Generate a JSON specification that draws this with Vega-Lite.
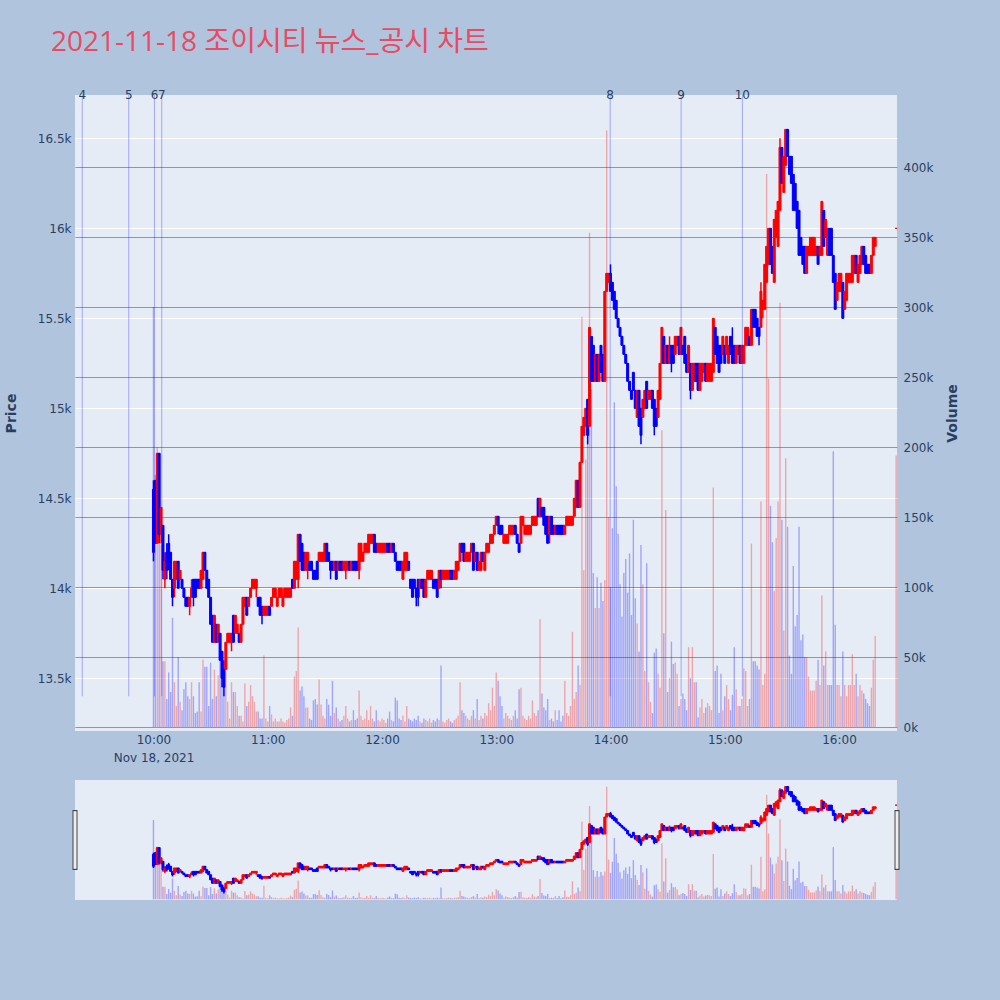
{
"$schema": "https://vega.github.io/schema/vega-lite/v6.json",
"background": "#b0c4de",
"padding": {"left": 4, "top": 29, "right": 40, "bottom": 100},
"spacing": 17,
"config": {
  "view": {"fill": "#e5ecf6", "stroke": null},
  "font": "DejaVu Sans",
  "axis": {"labelFont": "DejaVu Sans", "labelFontSize": 12, "labelColor": "#2a3f5f", "titleFont": "DejaVu Sans", "titleColor": "#2a3f5f", "titleFontSize": 14, "titleFontWeight": "bold", "ticks": false, "domain": false}
},
"datasets": {
"news": [{"n":"4","t":"2021-11-18T09:22:36"},{"n":"5","t":"2021-11-18T09:47:02"},{"n":"6","t":"2021-11-18T10:00:31"},{"n":"7","t":"2021-11-18T10:04:21"},{"n":"8","t":"2021-11-18T13:59:50"},{"n":"9","t":"2021-11-18T14:37:05"},{"n":"10","t":"2021-11-18T15:09:15"}],
"ends": [{"t":"2021-11-18T09:18:48"},{"t":"2021-11-18T16:30:27"}],
"px": [
{"t":"2021-11-18T10:00","o":14550,"h":14600,"l":14150,"c":14200,"v":300000},
{"t":"2021-11-18T10:01","o":14600,"h":14600,"l":14250,"c":14250,"v":180000},
{"t":"2021-11-18T10:02","o":14250,"h":14750,"l":14250,"c":14750,"v":200000},
{"t":"2021-11-18T10:03","o":14750,"h":14750,"l":14250,"c":14300,"v":150000},
{"t":"2021-11-18T10:04","o":14300,"h":14450,"l":14250,"c":14450,"v":130000},
{"t":"2021-11-18T10:05","o":14350,"h":14350,"l":14050,"c":14100,"v":47000},
{"t":"2021-11-18T10:06","o":14050,"h":14200,"l":14000,"c":14150,"v":47000},
{"t":"2021-11-18T10:07","o":14200,"h":14250,"l":14050,"c":14100,"v":20000},
{"t":"2021-11-18T10:08","o":14250,"h":14300,"l":14100,"c":14150,"v":39000},
{"t":"2021-11-18T10:09","o":14200,"h":14200,"l":14050,"c":14050,"v":25000},
{"t":"2021-11-18T10:10","o":14050,"h":14050,"l":13900,"c":13950,"v":78000},
{"t":"2021-11-18T10:11","o":14000,"h":14150,"l":13950,"c":14150,"v":32000},
{"t":"2021-11-18T10:12","o":14050,"h":14150,"l":14050,"c":14150,"v":15000},
{"t":"2021-11-18T10:13","o":14150,"h":14150,"l":14000,"c":14000,"v":50000},
{"t":"2021-11-18T10:14","o":14050,"h":14100,"l":14050,"c":14100,"v":18000},
{"t":"2021-11-18T10:15","o":14050,"h":14050,"l":14000,"c":14000,"v":12000},
{"t":"2021-11-18T10:16","o":14000,"h":14000,"l":13950,"c":13950,"v":27000},
{"t":"2021-11-18T10:17","o":13950,"h":13950,"l":13900,"c":13900,"v":32000},
{"t":"2021-11-18T10:18","o":13950,"h":13950,"l":13900,"c":13900,"v":22000},
{"t":"2021-11-18T10:19","o":13900,"h":13950,"l":13850,"c":13950,"v":20000},
{"t":"2021-11-18T10:20","o":13950,"h":14050,"l":13950,"c":14000,"v":32000},
{"t":"2021-11-18T10:21","o":14050,"h":14050,"l":13900,"c":13950,"v":22000},
{"t":"2021-11-18T10:22","o":14050,"h":14050,"l":13950,"c":13950,"v":10000},
{"t":"2021-11-18T10:23","o":14050,"h":14050,"l":14000,"c":14000,"v":11000},
{"t":"2021-11-18T10:24","o":14050,"h":14050,"l":14000,"c":14000,"v":32000},
{"t":"2021-11-18T10:25","o":14000,"h":14100,"l":14000,"c":14100,"v":11000},
{"t":"2021-11-18T10:26","o":14050,"h":14200,"l":14050,"c":14200,"v":48000},
{"t":"2021-11-18T10:27","o":14200,"h":14200,"l":14100,"c":14100,"v":43000},
{"t":"2021-11-18T10:28","o":14100,"h":14100,"l":14000,"c":14000,"v":43000},
{"t":"2021-11-18T10:29","o":14050,"h":14050,"l":13950,"c":13950,"v":15000},
{"t":"2021-11-18T10:30","o":13950,"h":13950,"l":13800,"c":13800,"v":46000},
{"t":"2021-11-18T10:31","o":13850,"h":13850,"l":13700,"c":13700,"v":20000},
{"t":"2021-11-18T10:32","o":13700,"h":13850,"l":13700,"c":13850,"v":41000},
{"t":"2021-11-18T10:33","o":13800,"h":13800,"l":13700,"c":13700,"v":22000},
{"t":"2021-11-18T10:34","o":13700,"h":13800,"l":13700,"c":13800,"v":37000},
{"t":"2021-11-18T10:35","o":13750,"h":13750,"l":13600,"c":13600,"v":51000},
{"t":"2021-11-18T10:36","o":13650,"h":13650,"l":13450,"c":13500,"v":51000},
{"t":"2021-11-18T10:37","o":13550,"h":13600,"l":13400,"c":13450,"v":34000},
{"t":"2021-11-18T10:38","o":13550,"h":13700,"l":13550,"c":13700,"v":46000},
{"t":"2021-11-18T10:39","o":13700,"h":13750,"l":13700,"c":13750,"v":18000},
{"t":"2021-11-18T10:40","o":13700,"h":13750,"l":13700,"c":13750,"v":6000},
{"t":"2021-11-18T10:41","o":13700,"h":13750,"l":13650,"c":13750,"v":32000},
{"t":"2021-11-18T10:42","o":13850,"h":13850,"l":13700,"c":13700,"v":25000},
{"t":"2021-11-18T10:43","o":13750,"h":13850,"l":13750,"c":13850,"v":25000},
{"t":"2021-11-18T10:44","o":13750,"h":13800,"l":13750,"c":13800,"v":15000},
{"t":"2021-11-18T10:45","o":13750,"h":13750,"l":13700,"c":13700,"v":8000},
{"t":"2021-11-18T10:46","o":13700,"h":13800,"l":13700,"c":13800,"v":8000},
{"t":"2021-11-18T10:47","o":13800,"h":13950,"l":13800,"c":13950,"v":4000},
{"t":"2021-11-18T10:48","o":13900,"h":13950,"l":13900,"c":13950,"v":31000},
{"t":"2021-11-18T10:49","o":13950,"h":13950,"l":13850,"c":13850,"v":15000},
{"t":"2021-11-18T10:50","o":13900,"h":13950,"l":13900,"c":13950,"v":18000},
{"t":"2021-11-18T10:51","o":13950,"h":14000,"l":13950,"c":14000,"v":30000},
{"t":"2021-11-18T10:52","o":14000,"h":14050,"l":14000,"c":14050,"v":22000},
{"t":"2021-11-18T10:53","o":14000,"h":14050,"l":14000,"c":14050,"v":18000},
{"t":"2021-11-18T10:54","o":14000,"h":14050,"l":13950,"c":14050,"v":11000},
{"t":"2021-11-18T10:55","o":13950,"h":13950,"l":13900,"c":13900,"v":11000},
{"t":"2021-11-18T10:56","o":13950,"h":13950,"l":13850,"c":13850,"v":6000},
{"t":"2021-11-18T10:57","o":13900,"h":13900,"l":13800,"c":13850,"v":6000},
{"t":"2021-11-18T10:58","o":13850,"h":13900,"l":13850,"c":13900,"v":51000},
{"t":"2021-11-18T10:59","o":13850,"h":13900,"l":13850,"c":13900,"v":6000},
{"t":"2021-11-18T11:00","o":13850,"h":13900,"l":13850,"c":13900,"v":4000},
{"t":"2021-11-18T11:01","o":13900,"h":13900,"l":13850,"c":13850,"v":15000},
{"t":"2021-11-18T11:02","o":13900,"h":13950,"l":13900,"c":13950,"v":9000},
{"t":"2021-11-18T11:03","o":13950,"h":14000,"l":13950,"c":14000,"v":4000},
{"t":"2021-11-18T11:04","o":13950,"h":14000,"l":13950,"c":14000,"v":6000},
{"t":"2021-11-18T11:05","o":13900,"h":13950,"l":13900,"c":13950,"v":4000},
{"t":"2021-11-18T11:06","o":13950,"h":14000,"l":13950,"c":14000,"v":4000},
{"t":"2021-11-18T11:07","o":13950,"h":14000,"l":13950,"c":14000,"v":6000},
{"t":"2021-11-18T11:08","o":13900,"h":14000,"l":13900,"c":13950,"v":4000},
{"t":"2021-11-18T11:09","o":13950,"h":14000,"l":13950,"c":14000,"v":3000},
{"t":"2021-11-18T11:10","o":13950,"h":14000,"l":13950,"c":14000,"v":5000},
{"t":"2021-11-18T11:11","o":13950,"h":14000,"l":13950,"c":14000,"v":6000},
{"t":"2021-11-18T11:12","o":13950,"h":14000,"l":13950,"c":14000,"v":14000},
{"t":"2021-11-18T11:13","o":14050,"h":14050,"l":14000,"c":14000,"v":8000},
{"t":"2021-11-18T11:14","o":14000,"h":14150,"l":14000,"c":14150,"v":36000},
{"t":"2021-11-18T11:15","o":14050,"h":14150,"l":14050,"c":14150,"v":40000},
{"t":"2021-11-18T11:16","o":14050,"h":14300,"l":14000,"c":14300,"v":71000},
{"t":"2021-11-18T11:17","o":14300,"h":14300,"l":14150,"c":14150,"v":26000},
{"t":"2021-11-18T11:18","o":14250,"h":14250,"l":14100,"c":14100,"v":29000},
{"t":"2021-11-18T11:19","o":14200,"h":14200,"l":14100,"c":14100,"v":22000},
{"t":"2021-11-18T11:20","o":14100,"h":14200,"l":14100,"c":14200,"v":14000},
{"t":"2021-11-18T11:21","o":14100,"h":14200,"l":14050,"c":14200,"v":14000},
{"t":"2021-11-18T11:22","o":14150,"h":14150,"l":14100,"c":14100,"v":6000},
{"t":"2021-11-18T11:23","o":14150,"h":14150,"l":14100,"c":14100,"v":5000},
{"t":"2021-11-18T11:24","o":14100,"h":14100,"l":14050,"c":14050,"v":19000},
{"t":"2021-11-18T11:25","o":14100,"h":14100,"l":14050,"c":14050,"v":20000},
{"t":"2021-11-18T11:26","o":14150,"h":14150,"l":14050,"c":14050,"v":16000},
{"t":"2021-11-18T11:27","o":14150,"h":14200,"l":14150,"c":14200,"v":34000},
{"t":"2021-11-18T11:28","o":14150,"h":14200,"l":14150,"c":14200,"v":16000},
{"t":"2021-11-18T11:29","o":14150,"h":14200,"l":14150,"c":14200,"v":8000},
{"t":"2021-11-18T11:30","o":14150,"h":14250,"l":14150,"c":14250,"v":6000},
{"t":"2021-11-18T11:31","o":14250,"h":14250,"l":14150,"c":14150,"v":20000},
{"t":"2021-11-18T11:32","o":14200,"h":14200,"l":14150,"c":14150,"v":16000},
{"t":"2021-11-18T11:33","o":14150,"h":14150,"l":14050,"c":14100,"v":8000},
{"t":"2021-11-18T11:34","o":14150,"h":14150,"l":14100,"c":14100,"v":33000},
{"t":"2021-11-18T11:35","o":14100,"h":14150,"l":14100,"c":14150,"v":10000},
{"t":"2021-11-18T11:36","o":14150,"h":14150,"l":14050,"c":14050,"v":14000},
{"t":"2021-11-18T11:37","o":14100,"h":14150,"l":14100,"c":14150,"v":6000},
{"t":"2021-11-18T11:38","o":14150,"h":14150,"l":14100,"c":14100,"v":4000},
{"t":"2021-11-18T11:39","o":14150,"h":14150,"l":14100,"c":14100,"v":5000},
{"t":"2021-11-18T11:40","o":14100,"h":14150,"l":14100,"c":14150,"v":8000},
{"t":"2021-11-18T11:41","o":14100,"h":14150,"l":14050,"c":14150,"v":15000},
{"t":"2021-11-18T11:42","o":14100,"h":14150,"l":14100,"c":14150,"v":6000},
{"t":"2021-11-18T11:43","o":14150,"h":14150,"l":14100,"c":14100,"v":4000},
{"t":"2021-11-18T11:44","o":14100,"h":14150,"l":14100,"c":14150,"v":5000},
{"t":"2021-11-18T11:45","o":14150,"h":14150,"l":14100,"c":14100,"v":12000},
{"t":"2021-11-18T11:46","o":14150,"h":14150,"l":14100,"c":14100,"v":5000},
{"t":"2021-11-18T11:47","o":14150,"h":14150,"l":14100,"c":14100,"v":6000},
{"t":"2021-11-18T11:48","o":14100,"h":14250,"l":14050,"c":14250,"v":26000},
{"t":"2021-11-18T11:49","o":14150,"h":14250,"l":14150,"c":14250,"v":8000},
{"t":"2021-11-18T11:50","o":14150,"h":14200,"l":14150,"c":14200,"v":5000},
{"t":"2021-11-18T11:51","o":14200,"h":14250,"l":14200,"c":14250,"v":6000},
{"t":"2021-11-18T11:52","o":14200,"h":14250,"l":14200,"c":14250,"v":12000},
{"t":"2021-11-18T11:53","o":14200,"h":14300,"l":14200,"c":14300,"v":5000},
{"t":"2021-11-18T11:54","o":14250,"h":14300,"l":14250,"c":14300,"v":15000},
{"t":"2021-11-18T11:55","o":14250,"h":14300,"l":14250,"c":14300,"v":6000},
{"t":"2021-11-18T11:56","o":14300,"h":14300,"l":14200,"c":14200,"v":4000},
{"t":"2021-11-18T11:57","o":14250,"h":14250,"l":14200,"c":14200,"v":12000},
{"t":"2021-11-18T11:58","o":14200,"h":14250,"l":14200,"c":14250,"v":5000},
{"t":"2021-11-18T11:59","o":14200,"h":14250,"l":14200,"c":14250,"v":4000},
{"t":"2021-11-18T12:00","o":14200,"h":14250,"l":14200,"c":14250,"v":6000},
{"t":"2021-11-18T12:01","o":14200,"h":14250,"l":14200,"c":14250,"v":5000},
{"t":"2021-11-18T12:02","o":14200,"h":14250,"l":14200,"c":14250,"v":3000},
{"t":"2021-11-18T12:03","o":14250,"h":14250,"l":14200,"c":14200,"v":6000},
{"t":"2021-11-18T12:04","o":14250,"h":14250,"l":14200,"c":14200,"v":11000},
{"t":"2021-11-18T12:05","o":14200,"h":14250,"l":14200,"c":14250,"v":5000},
{"t":"2021-11-18T12:06","o":14250,"h":14250,"l":14200,"c":14200,"v":4000},
{"t":"2021-11-18T12:07","o":14200,"h":14200,"l":14150,"c":14150,"v":21000},
{"t":"2021-11-18T12:08","o":14150,"h":14150,"l":14100,"c":14100,"v":19000},
{"t":"2021-11-18T12:09","o":14150,"h":14150,"l":14100,"c":14100,"v":6000},
{"t":"2021-11-18T12:10","o":14150,"h":14150,"l":14100,"c":14100,"v":5000},
{"t":"2021-11-18T12:11","o":14050,"h":14150,"l":14050,"c":14150,"v":8000},
{"t":"2021-11-18T12:12","o":14100,"h":14200,"l":14100,"c":14200,"v":4000},
{"t":"2021-11-18T12:13","o":14100,"h":14200,"l":14100,"c":14200,"v":15000},
{"t":"2021-11-18T12:14","o":14150,"h":14150,"l":14100,"c":14100,"v":6000},
{"t":"2021-11-18T12:15","o":14050,"h":14050,"l":14000,"c":14000,"v":5000},
{"t":"2021-11-18T12:16","o":14050,"h":14050,"l":13950,"c":13950,"v":4000},
{"t":"2021-11-18T12:17","o":14050,"h":14050,"l":14000,"c":14000,"v":6000},
{"t":"2021-11-18T12:18","o":14000,"h":14000,"l":13900,"c":13950,"v":5000},
{"t":"2021-11-18T12:19","o":14050,"h":14050,"l":13900,"c":13950,"v":8000},
{"t":"2021-11-18T12:20","o":14000,"h":14050,"l":14000,"c":14050,"v":4000},
{"t":"2021-11-18T12:21","o":14050,"h":14050,"l":14000,"c":14000,"v":3000},
{"t":"2021-11-18T12:22","o":14050,"h":14050,"l":13950,"c":13950,"v":6000},
{"t":"2021-11-18T12:23","o":13950,"h":14050,"l":13950,"c":14050,"v":5000},
{"t":"2021-11-18T12:24","o":14050,"h":14100,"l":14050,"c":14100,"v":4000},
{"t":"2021-11-18T12:25","o":14050,"h":14100,"l":14050,"c":14100,"v":6000},
{"t":"2021-11-18T12:26","o":14050,"h":14100,"l":14050,"c":14100,"v":3000},
{"t":"2021-11-18T12:27","o":14050,"h":14050,"l":14000,"c":14000,"v":5000},
{"t":"2021-11-18T12:28","o":14050,"h":14050,"l":14000,"c":14000,"v":4000},
{"t":"2021-11-18T12:29","o":14050,"h":14050,"l":13950,"c":13950,"v":6000},
{"t":"2021-11-18T12:30","o":14000,"h":14100,"l":14000,"c":14100,"v":5000},
{"t":"2021-11-18T12:31","o":14100,"h":14100,"l":14000,"c":14050,"v":44000},
{"t":"2021-11-18T12:32","o":14050,"h":14100,"l":14050,"c":14100,"v":4000},
{"t":"2021-11-18T12:33","o":14050,"h":14100,"l":14050,"c":14100,"v":3000},
{"t":"2021-11-18T12:34","o":14050,"h":14100,"l":14050,"c":14100,"v":5000},
{"t":"2021-11-18T12:35","o":14050,"h":14100,"l":14050,"c":14100,"v":6000},
{"t":"2021-11-18T12:36","o":14100,"h":14100,"l":14050,"c":14050,"v":4000},
{"t":"2021-11-18T12:37","o":14100,"h":14100,"l":14050,"c":14050,"v":3000},
{"t":"2021-11-18T12:38","o":14050,"h":14100,"l":14050,"c":14100,"v":5000},
{"t":"2021-11-18T12:39","o":14050,"h":14150,"l":14050,"c":14150,"v":6000},
{"t":"2021-11-18T12:40","o":14100,"h":14150,"l":14100,"c":14150,"v":8000},
{"t":"2021-11-18T12:41","o":14150,"h":14250,"l":14150,"c":14250,"v":32000},
{"t":"2021-11-18T12:42","o":14250,"h":14250,"l":14200,"c":14200,"v":12000},
{"t":"2021-11-18T12:43","o":14250,"h":14250,"l":14150,"c":14150,"v":10000},
{"t":"2021-11-18T12:44","o":14150,"h":14200,"l":14150,"c":14200,"v":8000},
{"t":"2021-11-18T12:45","o":14150,"h":14200,"l":14150,"c":14200,"v":6000},
{"t":"2021-11-18T12:46","o":14150,"h":14200,"l":14150,"c":14200,"v":5000},
{"t":"2021-11-18T12:47","o":14200,"h":14250,"l":14200,"c":14250,"v":8000},
{"t":"2021-11-18T12:48","o":14250,"h":14250,"l":14100,"c":14100,"v":12000},
{"t":"2021-11-18T12:49","o":14150,"h":14200,"l":14150,"c":14200,"v":6000},
{"t":"2021-11-18T12:50","o":14200,"h":14200,"l":14100,"c":14100,"v":20000},
{"t":"2021-11-18T12:51","o":14100,"h":14150,"l":14100,"c":14150,"v":5000},
{"t":"2021-11-18T12:52","o":14100,"h":14200,"l":14100,"c":14200,"v":8000},
{"t":"2021-11-18T12:53","o":14200,"h":14200,"l":14150,"c":14150,"v":6000},
{"t":"2021-11-18T12:54","o":14100,"h":14200,"l":14100,"c":14200,"v":10000},
{"t":"2021-11-18T12:55","o":14200,"h":14250,"l":14200,"c":14250,"v":8000},
{"t":"2021-11-18T12:56","o":14200,"h":14250,"l":14200,"c":14250,"v":17000},
{"t":"2021-11-18T12:57","o":14250,"h":14300,"l":14250,"c":14300,"v":12000},
{"t":"2021-11-18T12:58","o":14250,"h":14300,"l":14250,"c":14300,"v":28000},
{"t":"2021-11-18T12:59","o":14300,"h":14350,"l":14300,"c":14350,"v":15000},
{"t":"2021-11-18T13:00","o":14350,"h":14400,"l":14350,"c":14400,"v":39000},
{"t":"2021-11-18T13:01","o":14400,"h":14400,"l":14300,"c":14350,"v":33000},
{"t":"2021-11-18T13:02","o":14350,"h":14350,"l":14300,"c":14300,"v":22000},
{"t":"2021-11-18T13:03","o":14350,"h":14350,"l":14300,"c":14300,"v":15000},
{"t":"2021-11-18T13:04","o":14250,"h":14300,"l":14250,"c":14300,"v":6000},
{"t":"2021-11-18T13:05","o":14250,"h":14300,"l":14250,"c":14300,"v":10000},
{"t":"2021-11-18T13:06","o":14250,"h":14300,"l":14250,"c":14300,"v":8000},
{"t":"2021-11-18T13:07","o":14300,"h":14350,"l":14300,"c":14350,"v":6000},
{"t":"2021-11-18T13:08","o":14300,"h":14350,"l":14300,"c":14350,"v":5000},
{"t":"2021-11-18T13:09","o":14300,"h":14350,"l":14300,"c":14350,"v":8000},
{"t":"2021-11-18T13:10","o":14350,"h":14350,"l":14300,"c":14300,"v":12000},
{"t":"2021-11-18T13:11","o":14300,"h":14300,"l":14250,"c":14250,"v":6000},
{"t":"2021-11-18T13:12","o":14250,"h":14250,"l":14200,"c":14200,"v":27000},
{"t":"2021-11-18T13:13","o":14250,"h":14400,"l":14250,"c":14400,"v":28000},
{"t":"2021-11-18T13:14","o":14350,"h":14400,"l":14350,"c":14400,"v":8000},
{"t":"2021-11-18T13:15","o":14300,"h":14350,"l":14300,"c":14350,"v":6000},
{"t":"2021-11-18T13:16","o":14300,"h":14350,"l":14300,"c":14350,"v":5000},
{"t":"2021-11-18T13:17","o":14300,"h":14350,"l":14300,"c":14350,"v":8000},
{"t":"2021-11-18T13:18","o":14300,"h":14350,"l":14300,"c":14350,"v":6000},
{"t":"2021-11-18T13:19","o":14350,"h":14400,"l":14350,"c":14400,"v":19000},
{"t":"2021-11-18T13:20","o":14350,"h":14400,"l":14350,"c":14400,"v":10000},
{"t":"2021-11-18T13:21","o":14350,"h":14400,"l":14350,"c":14400,"v":8000},
{"t":"2021-11-18T13:22","o":14500,"h":14500,"l":14400,"c":14400,"v":12000},
{"t":"2021-11-18T13:23","o":14400,"h":14500,"l":14400,"c":14500,"v":77000},
{"t":"2021-11-18T13:24","o":14450,"h":14450,"l":14400,"c":14400,"v":24000},
{"t":"2021-11-18T13:25","o":14450,"h":14450,"l":14350,"c":14350,"v":14000},
{"t":"2021-11-18T13:26","o":14400,"h":14400,"l":14300,"c":14300,"v":12000},
{"t":"2021-11-18T13:27","o":14400,"h":14400,"l":14250,"c":14250,"v":20000},
{"t":"2021-11-18T13:28","o":14300,"h":14400,"l":14250,"c":14400,"v":5000},
{"t":"2021-11-18T13:29","o":14400,"h":14400,"l":14300,"c":14300,"v":6000},
{"t":"2021-11-18T13:30","o":14350,"h":14350,"l":14300,"c":14300,"v":4000},
{"t":"2021-11-18T13:31","o":14300,"h":14350,"l":14300,"c":14350,"v":12000},
{"t":"2021-11-18T13:32","o":14350,"h":14350,"l":14300,"c":14300,"v":5000},
{"t":"2021-11-18T13:33","o":14350,"h":14350,"l":14300,"c":14300,"v":12000},
{"t":"2021-11-18T13:34","o":14350,"h":14350,"l":14300,"c":14300,"v":4000},
{"t":"2021-11-18T13:35","o":14350,"h":14350,"l":14300,"c":14300,"v":8000},
{"t":"2021-11-18T13:36","o":14300,"h":14350,"l":14300,"c":14350,"v":33000},
{"t":"2021-11-18T13:37","o":14350,"h":14400,"l":14350,"c":14400,"v":10000},
{"t":"2021-11-18T13:38","o":14350,"h":14400,"l":14350,"c":14400,"v":8000},
{"t":"2021-11-18T13:39","o":14350,"h":14400,"l":14350,"c":14400,"v":15000},
{"t":"2021-11-18T13:40","o":14350,"h":14400,"l":14350,"c":14400,"v":68000},
{"t":"2021-11-18T13:41","o":14400,"h":14500,"l":14400,"c":14500,"v":20000},
{"t":"2021-11-18T13:42","o":14450,"h":14600,"l":14450,"c":14600,"v":25000},
{"t":"2021-11-18T13:43","o":14600,"h":14600,"l":14450,"c":14450,"v":44000},
{"t":"2021-11-18T13:44","o":14450,"h":14700,"l":14450,"c":14700,"v":30000},
{"t":"2021-11-18T13:45","o":14700,"h":14900,"l":14700,"c":14900,"v":293000},
{"t":"2021-11-18T13:46","o":14850,"h":14950,"l":14850,"c":14950,"v":112000},
{"t":"2021-11-18T13:47","o":14900,"h":15000,"l":14900,"c":15000,"v":191000},
{"t":"2021-11-18T13:48","o":15050,"h":15050,"l":14800,"c":14850,"v":211000},
{"t":"2021-11-18T13:49","o":14900,"h":15450,"l":14900,"c":15450,"v":353000},
{"t":"2021-11-18T13:50","o":15400,"h":15400,"l":15150,"c":15150,"v":241000},
{"t":"2021-11-18T13:51","o":15350,"h":15350,"l":15150,"c":15150,"v":110000},
{"t":"2021-11-18T13:52","o":15150,"h":15300,"l":15150,"c":15300,"v":85000},
{"t":"2021-11-18T13:53","o":15300,"h":15300,"l":15150,"c":15150,"v":107000},
{"t":"2021-11-18T13:54","o":15150,"h":15300,"l":15150,"c":15300,"v":85000},
{"t":"2021-11-18T13:55","o":15350,"h":15350,"l":15200,"c":15200,"v":103000},
{"t":"2021-11-18T13:56","o":15300,"h":15300,"l":15150,"c":15150,"v":90000},
{"t":"2021-11-18T13:57","o":15150,"h":15650,"l":15150,"c":15650,"v":105000},
{"t":"2021-11-18T13:58","o":15650,"h":15750,"l":15650,"c":15750,"v":426000},
{"t":"2021-11-18T13:59","o":15700,"h":15750,"l":15700,"c":15750,"v":150000},
{"t":"2021-11-18T14:00","o":15750,"h":15800,"l":15650,"c":15650,"v":100000},
{"t":"2021-11-18T14:01","o":15700,"h":15700,"l":15600,"c":15600,"v":142000},
{"t":"2021-11-18T14:02","o":15650,"h":15650,"l":15550,"c":15550,"v":232000},
{"t":"2021-11-18T14:03","o":15600,"h":15600,"l":15500,"c":15500,"v":172000},
{"t":"2021-11-18T14:04","o":15500,"h":15500,"l":15450,"c":15450,"v":138000},
{"t":"2021-11-18T14:05","o":15450,"h":15450,"l":15400,"c":15400,"v":102000},
{"t":"2021-11-18T14:06","o":15400,"h":15400,"l":15350,"c":15350,"v":79000},
{"t":"2021-11-18T14:07","o":15350,"h":15350,"l":15300,"c":15300,"v":110000},
{"t":"2021-11-18T14:08","o":15300,"h":15300,"l":15250,"c":15250,"v":120000},
{"t":"2021-11-18T14:09","o":15250,"h":15250,"l":15150,"c":15150,"v":96000},
{"t":"2021-11-18T14:10","o":15150,"h":15150,"l":15100,"c":15100,"v":124000},
{"t":"2021-11-18T14:11","o":15100,"h":15100,"l":15050,"c":15050,"v":80000},
{"t":"2021-11-18T14:12","o":15200,"h":15200,"l":15100,"c":15100,"v":148000},
{"t":"2021-11-18T14:13","o":15100,"h":15100,"l":15000,"c":15000,"v":92000},
{"t":"2021-11-18T14:14","o":14950,"h":15100,"l":14950,"c":15100,"v":74000},
{"t":"2021-11-18T14:15","o":15100,"h":15100,"l":14900,"c":14900,"v":54000},
{"t":"2021-11-18T14:16","o":15000,"h":15000,"l":14800,"c":14850,"v":130000},
{"t":"2021-11-18T14:17","o":14950,"h":15050,"l":14950,"c":15050,"v":102000},
{"t":"2021-11-18T14:18","o":15000,"h":15100,"l":15000,"c":15100,"v":40000},
{"t":"2021-11-18T14:19","o":15150,"h":15150,"l":15000,"c":15000,"v":117000},
{"t":"2021-11-18T14:20","o":15050,"h":15100,"l":15050,"c":15100,"v":32000},
{"t":"2021-11-18T14:21","o":15050,"h":15100,"l":15050,"c":15100,"v":18000},
{"t":"2021-11-18T14:22","o":15100,"h":15100,"l":15000,"c":15000,"v":10000},
{"t":"2021-11-18T14:23","o":15050,"h":15050,"l":14850,"c":14900,"v":53000},
{"t":"2021-11-18T14:24","o":15000,"h":15000,"l":14900,"c":14900,"v":56000},
{"t":"2021-11-18T14:25","o":14950,"h":15100,"l":14950,"c":15100,"v":38000},
{"t":"2021-11-18T14:26","o":15050,"h":15250,"l":15050,"c":15250,"v":28000},
{"t":"2021-11-18T14:27","o":15250,"h":15450,"l":15250,"c":15450,"v":212000},
{"t":"2021-11-18T14:28","o":15400,"h":15400,"l":15250,"c":15250,"v":67000},
{"t":"2021-11-18T14:29","o":15250,"h":15350,"l":15250,"c":15350,"v":155000},
{"t":"2021-11-18T14:30","o":15350,"h":15350,"l":15250,"c":15250,"v":25000},
{"t":"2021-11-18T14:31","o":15250,"h":15400,"l":15250,"c":15350,"v":35000},
{"t":"2021-11-18T14:32","o":15350,"h":15350,"l":15200,"c":15250,"v":61000},
{"t":"2021-11-18T14:33","o":15350,"h":15350,"l":15250,"c":15250,"v":45000},
{"t":"2021-11-18T14:34","o":15300,"h":15400,"l":15300,"c":15400,"v":46000},
{"t":"2021-11-18T14:35","o":15350,"h":15400,"l":15350,"c":15400,"v":38000},
{"t":"2021-11-18T14:36","o":15400,"h":15400,"l":15300,"c":15300,"v":15000},
{"t":"2021-11-18T14:37","o":15300,"h":15450,"l":15300,"c":15450,"v":20000},
{"t":"2021-11-18T14:38","o":15350,"h":15350,"l":15300,"c":15300,"v":24000},
{"t":"2021-11-18T14:39","o":15400,"h":15400,"l":15250,"c":15250,"v":20000},
{"t":"2021-11-18T14:40","o":15300,"h":15300,"l":15200,"c":15200,"v":12000},
{"t":"2021-11-18T14:41","o":15200,"h":15350,"l":15200,"c":15350,"v":57000},
{"t":"2021-11-18T14:42","o":15250,"h":15250,"l":15050,"c":15100,"v":35000},
{"t":"2021-11-18T14:43","o":15100,"h":15250,"l":15100,"c":15250,"v":57000},
{"t":"2021-11-18T14:44","o":15150,"h":15250,"l":15150,"c":15250,"v":32000},
{"t":"2021-11-18T14:45","o":15250,"h":15250,"l":15150,"c":15150,"v":32000},
{"t":"2021-11-18T14:46","o":15250,"h":15250,"l":15100,"c":15100,"v":7000},
{"t":"2021-11-18T14:47","o":15100,"h":15250,"l":15100,"c":15250,"v":14000},
{"t":"2021-11-18T14:48","o":15150,"h":15250,"l":15150,"c":15250,"v":20000},
{"t":"2021-11-18T14:49","o":15200,"h":15250,"l":15200,"c":15250,"v":10000},
{"t":"2021-11-18T14:50","o":15250,"h":15250,"l":15150,"c":15150,"v":14000},
{"t":"2021-11-18T14:51","o":15150,"h":15250,"l":15150,"c":15250,"v":17000},
{"t":"2021-11-18T14:52","o":15150,"h":15250,"l":15150,"c":15250,"v":15000},
{"t":"2021-11-18T14:53","o":15150,"h":15250,"l":15150,"c":15250,"v":12000},
{"t":"2021-11-18T14:54","o":15200,"h":15500,"l":15200,"c":15500,"v":171000},
{"t":"2021-11-18T14:55","o":15450,"h":15450,"l":15300,"c":15300,"v":40000},
{"t":"2021-11-18T14:56","o":15400,"h":15400,"l":15250,"c":15250,"v":44000},
{"t":"2021-11-18T14:57","o":15350,"h":15350,"l":15200,"c":15200,"v":10000},
{"t":"2021-11-18T14:58","o":15350,"h":15350,"l":15250,"c":15250,"v":38000},
{"t":"2021-11-18T14:59","o":15300,"h":15400,"l":15300,"c":15400,"v":12000},
{"t":"2021-11-18T15:00","o":15350,"h":15350,"l":15250,"c":15250,"v":22000},
{"t":"2021-11-18T15:01","o":15300,"h":15400,"l":15300,"c":15400,"v":30000},
{"t":"2021-11-18T15:02","o":15250,"h":15350,"l":15250,"c":15350,"v":20000},
{"t":"2021-11-18T15:03","o":15400,"h":15400,"l":15300,"c":15300,"v":12000},
{"t":"2021-11-18T15:04","o":15350,"h":15450,"l":15250,"c":15250,"v":23000},
{"t":"2021-11-18T15:05","o":15350,"h":15350,"l":15250,"c":15250,"v":57000},
{"t":"2021-11-18T15:06","o":15250,"h":15350,"l":15250,"c":15350,"v":27000},
{"t":"2021-11-18T15:07","o":15300,"h":15350,"l":15300,"c":15350,"v":15000},
{"t":"2021-11-18T15:08","o":15350,"h":15350,"l":15250,"c":15250,"v":15000},
{"t":"2021-11-18T15:09","o":15250,"h":15350,"l":15250,"c":15350,"v":20000},
{"t":"2021-11-18T15:10","o":15250,"h":15350,"l":15250,"c":15350,"v":42000},
{"t":"2021-11-18T15:11","o":15350,"h":15450,"l":15350,"c":15450,"v":40000},
{"t":"2021-11-18T15:12","o":15350,"h":15450,"l":15350,"c":15450,"v":15000},
{"t":"2021-11-18T15:13","o":15400,"h":15400,"l":15350,"c":15350,"v":20000},
{"t":"2021-11-18T15:14","o":15350,"h":15550,"l":15350,"c":15550,"v":131000},
{"t":"2021-11-18T15:15","o":15550,"h":15550,"l":15450,"c":15450,"v":47000},
{"t":"2021-11-18T15:16","o":15550,"h":15550,"l":15450,"c":15450,"v":47000},
{"t":"2021-11-18T15:17","o":15500,"h":15500,"l":15400,"c":15400,"v":44000},
{"t":"2021-11-18T15:18","o":15450,"h":15450,"l":15350,"c":15400,"v":41000},
{"t":"2021-11-18T15:19","o":15450,"h":15700,"l":15450,"c":15650,"v":161000},
{"t":"2021-11-18T15:20","o":15550,"h":15600,"l":15500,"c":15600,"v":30000},
{"t":"2021-11-18T15:21","o":15550,"h":15800,"l":15550,"c":15800,"v":38000},
{"t":"2021-11-18T15:22","o":15700,"h":15900,"l":15700,"c":15900,"v":395000},
{"t":"2021-11-18T15:23","o":15800,"h":16000,"l":15800,"c":16000,"v":249000},
{"t":"2021-11-18T15:24","o":16000,"h":16000,"l":15800,"c":15800,"v":158000},
{"t":"2021-11-18T15:25","o":15900,"h":15900,"l":15750,"c":15750,"v":132000},
{"t":"2021-11-18T15:26","o":15700,"h":16050,"l":15700,"c":16050,"v":97000},
{"t":"2021-11-18T15:27","o":15950,"h":16100,"l":15950,"c":16100,"v":135000},
{"t":"2021-11-18T15:28","o":15900,"h":16150,"l":15900,"c":16150,"v":161000},
{"t":"2021-11-18T15:29","o":16100,"h":16500,"l":16100,"c":16450,"v":303000},
{"t":"2021-11-18T15:30","o":16450,"h":16450,"l":16250,"c":16250,"v":148000},
{"t":"2021-11-18T15:31","o":16200,"h":16400,"l":16200,"c":16400,"v":69000},
{"t":"2021-11-18T15:32","o":16350,"h":16550,"l":16350,"c":16550,"v":192000},
{"t":"2021-11-18T15:33","o":16550,"h":16550,"l":16400,"c":16400,"v":143000},
{"t":"2021-11-18T15:34","o":16400,"h":16400,"l":16300,"c":16300,"v":51000},
{"t":"2021-11-18T15:35","o":16400,"h":16400,"l":16250,"c":16250,"v":38000},
{"t":"2021-11-18T15:36","o":16300,"h":16300,"l":16100,"c":16100,"v":115000},
{"t":"2021-11-18T15:37","o":16250,"h":16250,"l":16100,"c":16100,"v":72000},
{"t":"2021-11-18T15:38","o":16150,"h":16150,"l":16000,"c":16000,"v":80000},
{"t":"2021-11-18T15:39","o":16100,"h":16100,"l":15850,"c":15850,"v":143000},
{"t":"2021-11-18T15:40","o":15950,"h":15950,"l":15850,"c":15850,"v":62000},
{"t":"2021-11-18T15:41","o":15900,"h":15900,"l":15800,"c":15800,"v":66000},
{"t":"2021-11-18T15:42","o":15900,"h":15900,"l":15750,"c":15750,"v":50000},
{"t":"2021-11-18T15:43","o":15750,"h":15900,"l":15750,"c":15900,"v":50000},
{"t":"2021-11-18T15:44","o":15850,"h":15900,"l":15850,"c":15900,"v":36000},
{"t":"2021-11-18T15:45","o":15850,"h":15950,"l":15850,"c":15950,"v":26000},
{"t":"2021-11-18T15:46","o":15850,"h":15950,"l":15850,"c":15950,"v":26000},
{"t":"2021-11-18T15:47","o":15850,"h":15950,"l":15850,"c":15950,"v":26000},
{"t":"2021-11-18T15:48","o":15850,"h":15900,"l":15850,"c":15900,"v":33000},
{"t":"2021-11-18T15:49","o":15900,"h":15900,"l":15800,"c":15800,"v":48000},
{"t":"2021-11-18T15:50","o":15850,"h":15900,"l":15850,"c":15900,"v":30000},
{"t":"2021-11-18T15:51","o":15850,"h":16150,"l":15850,"c":16150,"v":94000},
{"t":"2021-11-18T15:52","o":16100,"h":16100,"l":15900,"c":15900,"v":44000},
{"t":"2021-11-18T15:53","o":15950,"h":16050,"l":15950,"c":16050,"v":54000},
{"t":"2021-11-18T15:54","o":15850,"h":16000,"l":15850,"c":16000,"v":30000},
{"t":"2021-11-18T15:55","o":16000,"h":16000,"l":15850,"c":15850,"v":30000},
{"t":"2021-11-18T15:56","o":16000,"h":16000,"l":15850,"c":15850,"v":30000},
{"t":"2021-11-18T15:57","o":15850,"h":15850,"l":15700,"c":15700,"v":197000},
{"t":"2021-11-18T15:58","o":15750,"h":15750,"l":15550,"c":15550,"v":73000},
{"t":"2021-11-18T15:59","o":15600,"h":15700,"l":15600,"c":15700,"v":30000},
{"t":"2021-11-18T16:00","o":15650,"h":15750,"l":15650,"c":15750,"v":30000},
{"t":"2021-11-18T16:01","o":15650,"h":15750,"l":15650,"c":15750,"v":22000},
{"t":"2021-11-18T16:02","o":15700,"h":15700,"l":15500,"c":15500,"v":54000},
{"t":"2021-11-18T16:03","o":15550,"h":15650,"l":15550,"c":15650,"v":30000},
{"t":"2021-11-18T16:04","o":15600,"h":15750,"l":15600,"c":15750,"v":22000},
{"t":"2021-11-18T16:05","o":15700,"h":15750,"l":15700,"c":15750,"v":30000},
{"t":"2021-11-18T16:06","o":15700,"h":15750,"l":15700,"c":15750,"v":30000},
{"t":"2021-11-18T16:07","o":15700,"h":15850,"l":15700,"c":15850,"v":52000},
{"t":"2021-11-18T16:08","o":15750,"h":15850,"l":15750,"c":15850,"v":30000},
{"t":"2021-11-18T16:09","o":15850,"h":15850,"l":15750,"c":15750,"v":38000},
{"t":"2021-11-18T16:10","o":15700,"h":15800,"l":15700,"c":15800,"v":22000},
{"t":"2021-11-18T16:11","o":15750,"h":15850,"l":15750,"c":15850,"v":30000},
{"t":"2021-11-18T16:12","o":15800,"h":15900,"l":15800,"c":15900,"v":26000},
{"t":"2021-11-18T16:13","o":15900,"h":15900,"l":15800,"c":15800,"v":24000},
{"t":"2021-11-18T16:14","o":15850,"h":15850,"l":15750,"c":15750,"v":20000},
{"t":"2021-11-18T16:15","o":15800,"h":15800,"l":15750,"c":15750,"v":17000},
{"t":"2021-11-18T16:16","o":15800,"h":15800,"l":15750,"c":15750,"v":15000},
{"t":"2021-11-18T16:17","o":15750,"h":15850,"l":15750,"c":15850,"v":28000},
{"t":"2021-11-18T16:18","o":15850,"h":15950,"l":15850,"c":15950,"v":48000},
{"t":"2021-11-18T16:19","o":15900,"h":15950,"l":15900,"c":15950,"v":65000},
{"t":"2021-11-18T16:30","o":16000,"h":16000,"l":16000,"c":16000,"v":194000}
]
},
"vconcat": [
{
  "width": 822,
  "height": 636,
  "title": {"text": "2021-11-18 조이시티 뉴스_공시 차트", "anchor": "start", "frame": "group", "dx": -24, "offset": 32, "font": "Open Sans, Noto Sans CJK KR", "fontSize": 28, "fontWeight": "normal", "color": "#e94b62"},
  "data": {"name": "px"},
  "encoding": {
    "x": {"field": "t", "type": "temporal",
      "scale": {"nice": false, "padding": 0, "domain": [{"year": 2021, "month": 11, "date": 18, "hours": 9, "minutes": 18, "seconds": 48}, {"year": 2021, "month": 11, "date": 18, "hours": 16, "minutes": 30, "seconds": 27}]},
      "axis": {"title": "Nov 18, 2021", "titleFontSize": 12, "titleFontWeight": "normal", "titleX": 78.5, "titleAlign": "center", "titlePadding": 7, "grid": false, "format": "%H:%M", "labelPadding": 3, "labelFlush": false,
        "values": [{"year": 2021, "month": 11, "date": 18, "hours": 10}, {"year": 2021, "month": 11, "date": 18, "hours": 11}, {"year": 2021, "month": 11, "date": 18, "hours": 12}, {"year": 2021, "month": 11, "date": 18, "hours": 13}, {"year": 2021, "month": 11, "date": 18, "hours": 14}, {"year": 2021, "month": 11, "date": 18, "hours": 15}, {"year": 2021, "month": 11, "date": 18, "hours": 16}]}}
  },
  "resolve": {"scale": {"y": "independent"}},
  "layer": [
    {
      "layer": [
        {
          "mark": {"type": "bar", "size": 1.4, "opacity": 0.3},
          "encoding": {
            "y": {"field": "v", "type": "quantitative", "scale": {"domain": [-2857, 451429], "nice": false, "zero": false},
              "axis": {"orient": "right", "values": [0, 50000, 100000, 150000, 200000, 250000, 300000, 350000, 400000], "format": "~s", "title": "Volume", "titleAngle": 270, "titlePadding": 27, "labelPadding": 6, "grid": true, "gridColor": "#969696", "gridWidth": 1}},
            "color": {"condition": {"test": "datum.c >= datum.o", "value": "red"}, "value": "blue"}
          }
        },
        {
          "mark": {"type": "rule", "color": "#ffffff", "strokeWidth": 2},
          "encoding": {"y": {"datum": 0}}
        }
      ]
    },
    {
      "layer": [
        {
          "mark": {"type": "rule", "strokeWidth": 1.5},
          "encoding": {
            "y": {"field": "l", "type": "quantitative", "scale": {"domain": [13207, 16741], "nice": false, "zero": false},
              "axis": {"orient": "left", "values": [13500, 14000, 14500, 15000, 15500, 16000, 16500], "format": "~s", "title": "Price", "titlePadding": 19, "labelPadding": 4, "grid": true, "gridColor": "#ffffff", "gridWidth": 1}},
            "y2": {"field": "h"},
            "color": {"condition": {"test": "datum.c >= datum.o", "value": "red"}, "value": "blue"}
          }
        },
        {
          "mark": {"type": "bar", "size": 2, "strokeWidth": 1},
          "encoding": {
            "y": {"field": "o", "type": "quantitative"},
            "y2": {"field": "c"},
            "color": {"condition": {"test": "datum.c >= datum.o", "value": "red"}, "value": "blue"},
            "stroke": {"condition": {"test": "datum.c >= datum.o", "value": "red"}, "value": "blue"}
          }
        },
        {
          "data": {"name": "news"},
          "mark": {"type": "rule", "color": "blue", "opacity": 0.3, "strokeWidth": 1},
          "encoding": {"y": {"datum": 13400}, "y2": {"datum": 16741}}
        },
        {
          "data": {"name": "news"},
          "mark": {"type": "text", "fontSize": 12, "color": "#2a3f5f", "baseline": "middle"},
          "encoding": {"y": {"datum": 16741}, "text": {"field": "n"}}
        }
      ]
    }
  ]
},
{
  "width": 822,
  "height": 120,
  "data": {"name": "px"},
  "encoding": {
    "x": {"field": "t", "type": "temporal",
      "scale": {"nice": false, "padding": 0, "domain": [{"year": 2021, "month": 11, "date": 18, "hours": 9, "minutes": 18, "seconds": 48}, {"year": 2021, "month": 11, "date": 18, "hours": 16, "minutes": 30, "seconds": 27}]},
      "axis": null}
  },
  "resolve": {"scale": {"y": "independent"}},
  "layer": [
    {
      "mark": {"type": "bar", "size": 1.4, "opacity": 0.3},
      "encoding": {
        "y": {"field": "v", "type": "quantitative", "scale": {"domain": [-2857, 451429], "nice": false, "zero": false}, "axis": null},
        "color": {"condition": {"test": "datum.c >= datum.o", "value": "red"}, "value": "blue"}
      }
    },
    {
      "layer": [
        {
          "mark": {"type": "rule", "strokeWidth": 1.5},
          "encoding": {
            "y": {"field": "l", "type": "quantitative", "scale": {"domain": [13207, 16741], "nice": false, "zero": false}, "axis": null},
            "y2": {"field": "h"},
            "color": {"condition": {"test": "datum.c >= datum.o", "value": "red"}, "value": "blue"}
          }
        },
        {
          "mark": {"type": "bar", "size": 2, "strokeWidth": 1},
          "encoding": {
            "y": {"field": "o", "type": "quantitative"},
            "y2": {"field": "c"},
            "color": {"condition": {"test": "datum.c >= datum.o", "value": "red"}, "value": "blue"},
            "stroke": {"condition": {"test": "datum.c >= datum.o", "value": "red"}, "value": "blue"}
          }
        },
        {
          "data": {"name": "ends"},
          "mark": {"type": "rule", "color": "#444444", "strokeWidth": 5},
          "encoding": {"y": {"datum": 14091}, "y2": {"datum": 15857}}
        },
        {
          "data": {"name": "ends"},
          "mark": {"type": "rule", "color": "#eeeeee", "strokeWidth": 3},
          "encoding": {"y": {"datum": 14125}, "y2": {"datum": 15823}}
        }
      ]
    }
  ]
}
]
}
